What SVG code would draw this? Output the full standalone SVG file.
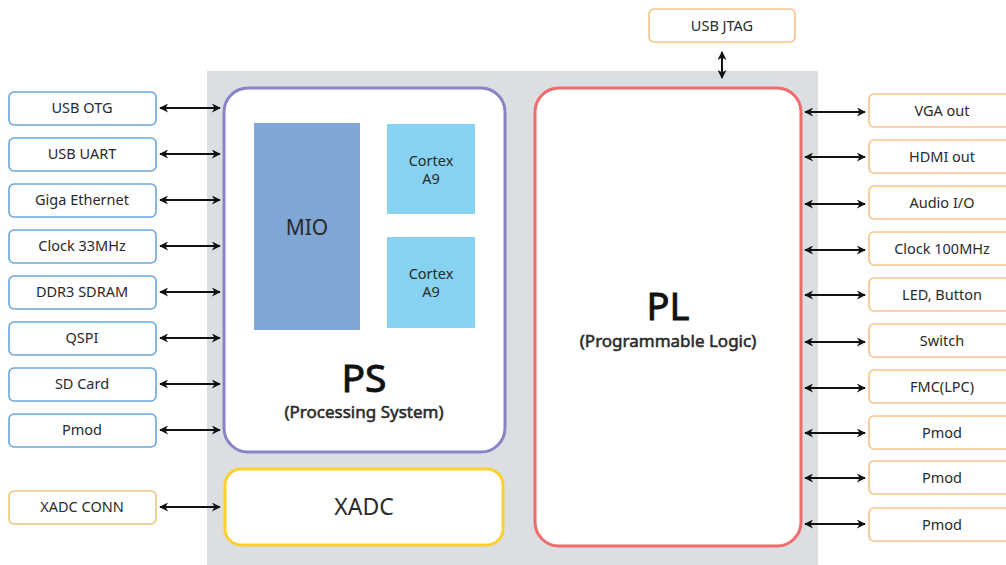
<svg xmlns="http://www.w3.org/2000/svg" width="1006" height="565" viewBox="0 0 1006 565">
<defs>
<marker id="ah" viewBox="0 0 10 10" refX="9" refY="5" markerWidth="5" markerHeight="4.5" orient="auto-start-reverse" markerUnits="strokeWidth">
<path d="M0,0 L10,5 L0,10 L3,5 Z" fill="#111"/>
</marker>
</defs>
<style>
text{font-family:"Noto Sans","Open Sans","DejaVu Sans",sans-serif;fill:#2a2a2a;text-anchor:middle}
.io{fill:#fff;stroke-width:1.6}
.lb{stroke:#6aa6dc}
.rb{stroke:#f8c28a}
.xb{stroke:#ecc680}
.t{font-size:14.5px}
.h{fill:#111;stroke:#111;stroke-width:0.9}
.s{font-size:17px;fill:#2a2a2a;stroke:#2a2a2a;stroke-width:0.55}
.c{stroke:#111;stroke-width:2;fill:none;marker-start:url(#ah);marker-end:url(#ah)}
</style>
<rect x="0" y="0" width="1006" height="565" fill="#fff"/>
<g id="board">
<rect x="207" y="71" width="611" height="500" fill="#dcdfe2"/>
</g>
<g id="ps">
<rect x="224" y="88" width="281" height="364" rx="24" fill="#fff" stroke="#8884c6" stroke-width="3"/>
<text class="h" x="364" y="392" font-size="39">PS</text>
<text class="s" x="364" y="418">(Processing System)</text>
</g>
<g id="mio">
<rect x="254" y="123" width="106" height="207" fill="#7fa6d5"/>
<text x="307" y="235" font-size="21">MIO</text>
</g>
<g id="cortex1">
<rect x="387" y="124" width="88" height="90" fill="#87d2f1"/>
<text x="431" y="166" font-size="14.5">Cortex</text>
<text x="431" y="184" font-size="14.5">A9</text>
</g>
<g id="cortex2">
<rect x="387" y="237" width="88" height="91" fill="#87d2f1"/>
<text x="431" y="279" font-size="14.5">Cortex</text>
<text x="431" y="297" font-size="14.5">A9</text>
</g>
<g id="xadc">
<rect x="225" y="469" width="278" height="76" rx="16" fill="#fff" stroke="#fdd02e" stroke-width="3"/>
<text x="364" y="515" font-size="23">XADC</text>
</g>
<g id="pl">
<rect x="535" y="88" width="266" height="458" rx="24" fill="#fff" stroke="#f06b6b" stroke-width="3"/>
<text class="h" x="668" y="320" font-size="38">PL</text>
<text class="s" x="668" y="347">(Programmable Logic)</text>
</g>
<g id="usb-otg"><rect class="io lb" x="9" y="92" width="147" height="33" rx="5"/><text class="t" x="82" y="113">USB OTG</text></g>
<g id="usb-uart"><rect class="io lb" x="9" y="138" width="147" height="33" rx="5"/><text class="t" x="82" y="159">USB UART</text></g>
<g id="giga-ethernet"><rect class="io lb" x="9" y="184" width="147" height="33" rx="5"/><text class="t" x="82" y="205">Giga Ethernet</text></g>
<g id="clock-33"><rect class="io lb" x="9" y="230" width="147" height="33" rx="5"/><text class="t" x="82" y="251">Clock 33MHz</text></g>
<g id="ddr3"><rect class="io lb" x="9" y="276" width="147" height="33" rx="5"/><text class="t" x="82" y="297">DDR3 SDRAM</text></g>
<g id="qspi"><rect class="io lb" x="9" y="322" width="147" height="33" rx="5"/><text class="t" x="82" y="343">QSPI</text></g>
<g id="sd-card"><rect class="io lb" x="9" y="368" width="147" height="33" rx="5"/><text class="t" x="82" y="389">SD Card</text></g>
<g id="pmod-l"><rect class="io lb" x="9" y="414" width="147" height="33" rx="5"/><text class="t" x="82" y="435">Pmod</text></g>
<g id="xadc-conn"><rect class="io xb" x="9" y="491" width="147" height="33" rx="5"/><text class="t" x="82" y="512">XADC CONN</text></g>
<g id="usb-jtag"><rect class="io rb" x="649" y="9" width="146" height="33" rx="5"/><text class="t" x="722" y="31">USB JTAG</text></g>
<g id="vga"><rect class="io rb" x="869" y="94" width="150" height="33" rx="5"/><text class="t" x="942" y="116">VGA out</text></g>
<g id="hdmi"><rect class="io rb" x="869" y="140" width="150" height="33" rx="5"/><text class="t" x="942" y="162">HDMI out</text></g>
<g id="audio"><rect class="io rb" x="869" y="186" width="150" height="33" rx="5"/><text class="t" x="942" y="208">Audio I/O</text></g>
<g id="clock-100"><rect class="io rb" x="869" y="232" width="150" height="33" rx="5"/><text class="t" x="942" y="254">Clock 100MHz</text></g>
<g id="led"><rect class="io rb" x="869" y="278" width="150" height="33" rx="5"/><text class="t" x="942" y="300">LED, Button</text></g>
<g id="switch"><rect class="io rb" x="869" y="324" width="150" height="33" rx="5"/><text class="t" x="942" y="346">Switch</text></g>
<g id="fmc"><rect class="io rb" x="869" y="370" width="150" height="33" rx="5"/><text class="t" x="942" y="392">FMC(LPC)</text></g>
<g id="pmod-r1"><rect class="io rb" x="869" y="416" width="150" height="33" rx="5"/><text class="t" x="942" y="438">Pmod</text></g>
<g id="pmod-r2"><rect class="io rb" x="869" y="461" width="150" height="33" rx="5"/><text class="t" x="942" y="483">Pmod</text></g>
<g id="pmod-r3"><rect class="io rb" x="869" y="508" width="150" height="33" rx="5"/><text class="t" x="942" y="530">Pmod</text></g>
<g id="connectors">
<line class="c" x1="160" y1="108" x2="220" y2="108"/>
<line class="c" x1="160" y1="154" x2="220" y2="154"/>
<line class="c" x1="160" y1="200" x2="220" y2="200"/>
<line class="c" x1="160" y1="246" x2="220" y2="246"/>
<line class="c" x1="160" y1="292" x2="220" y2="292"/>
<line class="c" x1="160" y1="338" x2="220" y2="338"/>
<line class="c" x1="160" y1="384" x2="220" y2="384"/>
<line class="c" x1="160" y1="430" x2="220" y2="430"/>
<line class="c" x1="160" y1="507" x2="220" y2="507"/>
<line class="c" x1="722" y1="52" x2="722" y2="78"/>
<line class="c" x1="805" y1="112" x2="865" y2="112"/>
<line class="c" x1="805" y1="157" x2="865" y2="157"/>
<line class="c" x1="805" y1="204" x2="865" y2="204"/>
<line class="c" x1="805" y1="250" x2="865" y2="250"/>
<line class="c" x1="805" y1="295" x2="865" y2="295"/>
<line class="c" x1="805" y1="342" x2="865" y2="342"/>
<line class="c" x1="805" y1="388" x2="865" y2="388"/>
<line class="c" x1="805" y1="433" x2="865" y2="433"/>
<line class="c" x1="805" y1="478" x2="865" y2="478"/>
<line class="c" x1="805" y1="524" x2="865" y2="524"/>
</g>
</svg>
